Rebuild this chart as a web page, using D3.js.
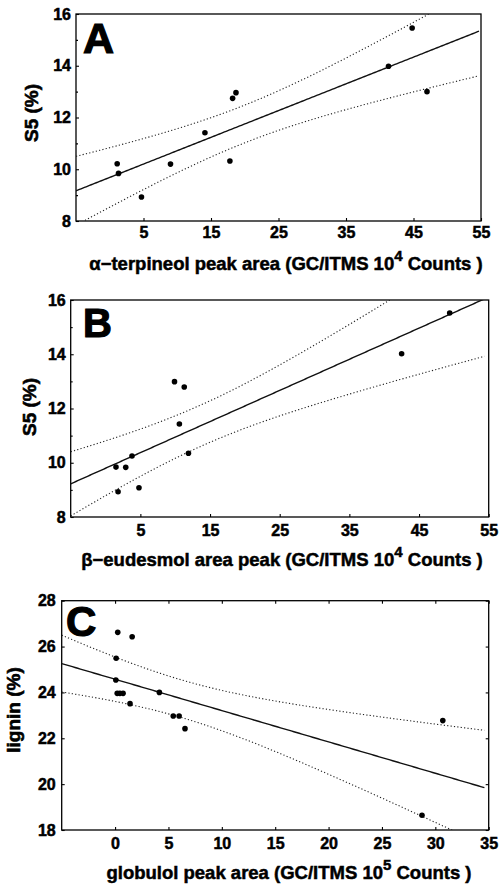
<!DOCTYPE html>
<html lang="en">
<head>
<meta charset="utf-8">
<title>S5 and lignin against terpene peak areas</title>
<script src="https://d3js.org/d3.v7.min.js"></script>
<style>
  body { margin: 0; background: #fff; }
  svg { display: block; }
  text { font-family: "Liberation Sans", Arial, sans-serif; font-weight: bold; fill: #000; stroke: #000; stroke-width: 0.5px; }
  .tick text { font-size: 16px; }
  .tick line { stroke: #000; stroke-width: 1.1px; }
  .x-title { font-size: 18.5px; }
  .y-title { font-size: 19px; stroke-width: 0.6px; }
  .letter { stroke-width: 1.2px; }
  .frame { fill: none; stroke: #000; stroke-width: 1.3px; }
  .fit { fill: none; stroke: #111; stroke-width: 1.4px; }
  .band { fill: none; stroke: #222; stroke-width: 1.1px; stroke-dasharray: 1.2, 2.2; }
  .dot { fill: #000; }
</style>
</head>
<body>
<script>
// values
var alphaTerpineol = [1.1, 1.3, 4.7, 9.0, 14.1, 17.8, 18.2, 18.7, 41.3, 44.8, 47.0];
var s5A = [10.21, 9.84, 8.93, 10.2, 11.41, 10.32, 12.74, 12.96, 13.98, 15.46, 13.0];

var betaEudesmol = [1.5, 2.9, 3.8, 1.8, 4.8, 9.9, 11.3, 10.6, 11.9, 42.5, 49.4];
var s5B = [9.84, 9.83, 10.25, 8.93, 9.08, 12.99, 12.79, 11.43, 10.35, 14.02, 15.52];

var globulol = [0.25, 1.6, 0.1, 0.07, 0.2, 0.45, 0.75, 1.4, 4.15, 5.45, 6.0, 6.55, 30.7, 28.75];
var lignin = [26.62, 26.43, 25.49, 24.54, 23.96, 23.96, 23.96, 23.51, 24.0, 22.97, 22.97, 22.42, 22.77, 18.64];

var xTicksAB = [5, 15, 25, 35, 45, 55];
var yTicksAB = [8, 10, 12, 14, 16];
var yMinorAB = [9, 11, 13, 15];
var xTicksC = [0, 5, 10, 15, 20, 25, 30, 35];
var yTicksC = [18, 20, 22, 24, 26, 28];

// two-sided 95% t values, by degrees of freedom
var tCrit = {9: 2.262, 10: 2.228, 11: 2.201, 12: 2.179, 13: 2.160};

var width = 500, height = 886;

var svg = d3.select('body').append('svg')
  .attr('width', width)
  .attr('height', height);

// least squares line with 95% confidence band of the mean
function regression(xs, ys) {
  var n = xs.length, mx = d3.mean(xs), my = d3.mean(ys);
  var sxx = d3.sum(xs, function(x) { return (x - mx) * (x - mx); });
  var sxy = d3.sum(xs, function(x, i) { return (x - mx) * (ys[i] - my); });
  var b = sxy / sxx, a = my - b * mx;
  var sse = d3.sum(xs, function(x, i) { return Math.pow(ys[i] - a - b * x, 2); });
  var s = Math.sqrt(sse / (n - 2)), t = tCrit[n - 2];
  return {
    y: function(x) { return a + b * x; },
    half: function(x) { return t * s * Math.sqrt(1 / n + (x - mx) * (x - mx) / sxx); }
  };
}

var panels = [
  {id: 'A', xs: alphaTerpineol, ys: s5A, xDomain: [-5, 55], yDomain: [8, 16],
   left: 76, right: 481, top: 14, bottom: 221, xTicks: xTicksAB, yTicks: yTicksAB, yMinor: yMinorAB,
   xPad: 6, yPad: 5, fitEnd: 54.7, frameTicks: false,
   letterX: 83, letterY: 53, letterSize: 43,
   yTitle: 'S5 (%)', yTitleX: 38, yTitleY: 113,
   xTitle: ['α−terpineol peak area (GC/ITMS 10', '4', ' Counts )'], xTitleX: 286, xTitleY: 270},
  {id: 'B', xs: betaEudesmol, ys: s5B, xDomain: [-5, 55], yDomain: [8, 16],
   left: 70.7, right: 488.7, top: 300, bottom: 517, xTicks: xTicksAB, yTicks: yTicksAB, yMinor: yMinorAB,
   xPad: 8, yPad: 5, fitEnd: 54.4, frameTicks: false,
   letterX: 83, letterY: 337, letterSize: 40,
   yTitle: 'S5 (%)', yTitleX: 36, yTitleY: 407,
   xTitle: ['β−eudesmol area peak (GC/ITMS 10', '4', ' Counts )'], xTitleX: 282, xTitleY: 566},
  {id: 'C', xs: globulol, ys: lignin, xDomain: [-5, 35], yDomain: [18, 28],
   left: 61.7, right: 488.7, top: 600.7, bottom: 830, xTicks: xTicksC, yTicks: yTicksC, yMinor: [],
   xPad: 8, yPad: 6, fitEnd: 34.6, frameTicks: true,
   letterX: 66, letterY: 636, letterSize: 42,
   yTitle: 'lignin (%)', yTitleX: 20, yTitleY: 710,
   xTitle: ['globulol peak area (GC/ITMS 10', '5', ' Counts )'], xTitleX: 289, xTitleY: 879}
];

panels.forEach(function(p) {
  var x = d3.scaleLinear().domain(p.xDomain).range([p.left, p.right]);
  var y = d3.scaleLinear().domain(p.yDomain).range([p.bottom, p.top]);
  var g = svg.append('g').attr('class', 'panel-' + p.id);

  g.append('clipPath').attr('id', 'clip' + p.id)
    .append('rect')
    .attr('x', p.left).attr('y', p.top)
    .attr('width', p.right - p.left).attr('height', p.bottom - p.top);

  // axes, ticks pointing into the plot
  var bottomAxis = d3.axisBottom(x).tickValues(p.xTicks).tickSize(-3).tickPadding(p.xPad).tickFormat(d3.format('d'));
  var leftAxis = d3.axisLeft(y).tickValues(p.yTicks).tickSize(-3).tickPadding(p.yPad).tickFormat(d3.format('d'));
  g.append('g').attr('transform', 'translate(0,' + p.bottom + ')').call(bottomAxis)
    .call(function(a) { a.select('.domain').remove(); });
  g.append('g').attr('transform', 'translate(' + p.left + ',0)').call(leftAxis)
    .call(function(a) { a.select('.domain').remove(); });
  if (p.yMinor.length) {
    g.append('g').attr('transform', 'translate(' + p.left + ',0)')
      .call(d3.axisLeft(y).tickValues(p.yMinor).tickSize(-2).tickFormat(''))
      .call(function(a) { a.select('.domain').remove(); });
  }
  if (p.frameTicks) {
    g.append('g').attr('transform', 'translate(0,' + p.top + ')')
      .call(d3.axisTop(x).tickValues(p.xTicks).tickSize(-3).tickFormat(''))
      .call(function(a) { a.select('.domain').remove(); });
    g.append('g').attr('transform', 'translate(' + p.right + ',0)')
      .call(d3.axisRight(y).tickValues(p.yTicks).tickSize(-3).tickFormat(''))
      .call(function(a) { a.select('.domain').remove(); });
  }
  g.selectAll('.tick text').attr('fill', '#000').attr('font-family', null).attr('font-size', null);

  g.append('rect').attr('class', 'frame')
    .attr('x', p.left).attr('y', p.top)
    .attr('width', p.right - p.left).attr('height', p.bottom - p.top);

  // fitted line and confidence band
  var reg = regression(p.xs, p.ys);
  var xsFit = d3.range(p.xDomain[0], p.fitEnd, 0.25).concat([p.fitEnd]);
  var plot = g.append('g').attr('clip-path', 'url(#clip' + p.id + ')');
  var line = function(f) {
    return d3.line().x(function(d) { return x(d); }).y(function(d) { return y(f(d)); })(xsFit);
  };
  plot.append('path').attr('class', 'band').attr('d', line(function(d) { return reg.y(d) + reg.half(d); }));
  plot.append('path').attr('class', 'band').attr('d', line(function(d) { return reg.y(d) - reg.half(d); }));
  plot.append('path').attr('class', 'fit').attr('d', line(reg.y));

  plot.selectAll('circle').data(p.xs).join('circle')
    .attr('class', 'dot')
    .attr('cx', function(d) { return x(d); })
    .attr('cy', function(d, i) { return y(p.ys[i]); })
    .attr('r', 2.8);

  g.append('text').attr('class', 'letter').text(p.id)
    .attr('x', p.letterX).attr('y', p.letterY)
    .style('font-size', p.letterSize + 'px');

  g.append('text').attr('class', 'y-title')
    .attr('text-anchor', 'middle')
    .attr('transform', 'translate(' + p.yTitleX + ',' + p.yTitleY + ') rotate(-90)')
    .text(p.yTitle);

  var xt = g.append('text').attr('class', 'x-title')
    .attr('text-anchor', 'middle')
    .attr('x', p.xTitleX).attr('y', p.xTitleY);
  xt.append('tspan').text(p.xTitle[0]);
  xt.append('tspan').attr('dy', -9).style('font-size', '15px').text(p.xTitle[1]);
  xt.append('tspan').attr('dy', 9).text(p.xTitle[2]);
});
</script>
</body>
</html>
